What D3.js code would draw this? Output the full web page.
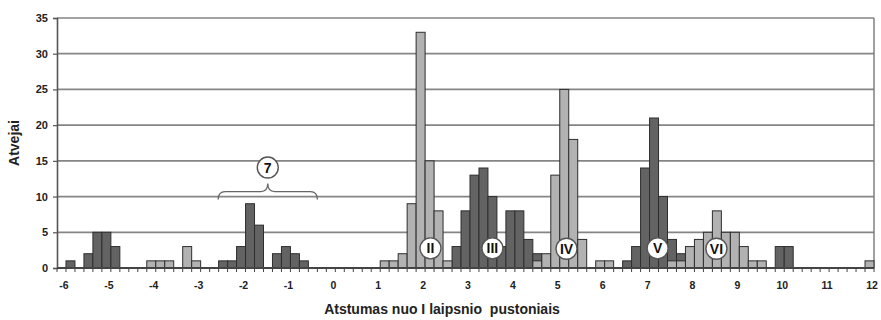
<!DOCTYPE html>
<html>
<head>
<meta charset="utf-8">
<script src="https://cdn.jsdelivr.net/npm/d3@7/dist/d3.min.js"></script>
<style>
  html, body { margin: 0; padding: 0; background: #fff; }
  svg { display: block; font-family: "Liberation Sans", Arial, sans-serif; }
</style>
</head>
<body>
<svg id="chart" width="881" height="320"></svg>
<script>
// Distance bins, 0.2 apart, from -6 to 12
const categories = d3.range(-30, 61).map(k => +(k / 5).toFixed(1));

// Counts per bin (dark series)
const darkValues = [
  0, 1, 0, 2, 5, 5, 3, 0, 0, 0,
  0, 0, 0, 0, 0, 0, 0, 0, 1, 1,
  3, 9, 6, 0, 2, 3, 2, 1, 0, 0,
  0, 0, 0, 0, 0, 0, 0, 0, 0, 0,
  0, 0, 0, 0, 3, 8, 13, 14, 10, 3,
  8, 8, 4, 2, 0, 0, 0, 0, 0, 0,
  0, 0, 0, 1, 3, 14, 21, 10, 4, 2,
  0, 0, 0, 0, 0, 0, 0, 0, 0, 0,
  3, 3, 0, 0, 0, 0, 0, 0, 0, 0,
  0
];

// Counts per bin (light series)
const lightValues = [
  0, 0, 0, 0, 0, 0, 0, 0, 0, 0,
  1, 1, 1, 0, 3, 1, 0, 0, 0, 0,
  0, 0, 0, 0, 0, 0, 0, 0, 0, 0,
  0, 0, 0, 0, 0, 0, 1, 1, 2, 9,
  33, 15, 8, 1, 0, 0, 0, 0, 0, 0,
  0, 0, 0, 1, 2, 13, 25, 18, 4, 0,
  1, 1, 0, 0, 0, 0, 0, 0, 1, 1,
  3, 4, 5, 8, 5, 5, 3, 1, 1, 0,
  0, 0, 0, 0, 0, 0, 0, 0, 0, 0,
  1
];

const xTickLabels = ["-6","-5","-4","-3","-2","-1","0","1","2","3","4","5","6","7","8","9","10","11","12"];
const yTicks = [0, 5, 10, 15, 20, 25, 30, 35];

// Group markers placed over the bins
const markers = [
  { text: "II",  at: 2.22, value: 2.75 },
  { text: "III", at: 3.60, value: 2.75 },
  { text: "IV",  at: 5.25, value: 2.7 },
  { text: "V",   at: 7.28, value: 2.75 },
  { text: "VI",  at: 8.59, value: 2.7 }
];
const braceGroup = { text: "7", from: -2.51, to: -0.30, value: 10 };

const svg = d3.select("#chart");
const plotLeft = 57, plotRight = 874, plotTop = 18, plotBottom = 268;

const x = d3.scaleBand()
  .domain(categories.map(String))
  .range([plotLeft, plotRight])
  .padding(0);

const y = d3.scaleLinear().domain([0, 35]).range([plotBottom, plotTop]);

// continuous helper on the same band geometry (category value -> pixel centre)
const xv = v => x(String(+v.toFixed(1))) + x.bandwidth() / 2;
const xc = d3.scaleLinear().domain([-6, 12]).range([xv(-6), xv(12)]);

// gridlines
svg.append("g")
  .selectAll("line")
  .data(yTicks.filter(t => t > 0))
  .join("line")
  .attr("x1", plotLeft).attr("x2", plotRight)
  .attr("y1", d => y(d)).attr("y2", d => y(d))
  .attr("stroke", "#858585")
  .attr("stroke-width", 1.7);

// right border of plot area
svg.append("line")
  .attr("x1", plotRight).attr("x2", plotRight)
  .attr("y1", y(35)).attr("y2", y(0))
  .attr("stroke", "#777").attr("stroke-width", 1.4);

// bars
function drawSeries(values, fill) {
  svg.append("g")
    .selectAll("rect")
    .data(categories.map((c, i) => ({ c, v: values[i] })).filter(d => d.v > 0))
    .join("rect")
    .attr("x", d => x(String(d.c)))
    .attr("width", x.bandwidth())
    .attr("y", d => y(d.v))
    .attr("height", d => y(0) - y(d.v))
    .attr("fill", fill)
    .attr("stroke", "#2e2e2e")
    .attr("stroke-width", 1);
}
drawSeries(darkValues, "#636363");
drawSeries(lightValues, "#b2b2b2");

// y axis
const yAxis = svg.append("g")
  .attr("transform", `translate(${plotLeft},0)`)
  .call(d3.axisLeft(y).tickValues(yTicks).tickSize(4).tickPadding(5));
yAxis.select(".domain").attr("stroke", "#555").attr("stroke-width", 1.6);
yAxis.selectAll(".tick line").attr("stroke", "#555").attr("stroke-width", 1.2);
yAxis.selectAll(".tick text")
  .attr("font-size", 11).attr("font-weight", "bold").attr("fill", "#222");

// x axis: labels every whole unit, ticks at every bin boundary
const labelCats = xTickLabels.map(t => String(+t));
const xAxis = svg.append("g")
  .attr("transform", `translate(0,${plotBottom})`)
  .call(d3.axisBottom(x).tickValues(labelCats).tickSize(0).tickPadding(14)
    .tickFormat((d, i) => xTickLabels[i]));
xAxis.select(".domain").remove();
xAxis.selectAll(".tick text")
  .attr("font-size", 10.5).attr("font-weight", "bold").attr("fill", "#222")
  .attr("dx", 2.5);

svg.append("g")
  .selectAll("line")
  .data(categories.map(String).concat(["end"]))
  .join("line")
  .attr("x1", d => d === "end" ? plotRight : x(d))
  .attr("x2", d => d === "end" ? plotRight : x(d))
  .attr("y1", plotBottom).attr("y2", plotBottom + 4)
  .attr("stroke", "#444").attr("stroke-width", 1);

svg.append("line")
  .attr("x1", plotLeft).attr("x2", plotRight)
  .attr("y1", plotBottom).attr("y2", plotBottom)
  .attr("stroke", "#444").attr("stroke-width", 1.8);

// axis titles
svg.append("text")
  .attr("x", 442).attr("y", 314)
  .attr("text-anchor", "middle")
  .attr("font-size", 14).attr("font-weight", "bold").attr("fill", "#222")
  .attr("xml:space", "preserve")
  .text("Atstumas nuo I laipsnio  pustoniais");

svg.append("text")
  .attr("transform", "translate(19,143) rotate(-90)")
  .attr("text-anchor", "middle")
  .attr("font-size", 14).attr("font-weight", "bold").attr("fill", "#222")
  .text("Atvejai");

// curly brace over the group
const bx0 = xc(braceGroup.from), bx1 = xc(braceGroup.to);
const bm = (bx0 + bx1) / 2;
const by = y(braceGroup.value) - 5;
const bracePath = d3.path();
bracePath.moveTo(bx0, by + 8);
bracePath.quadraticCurveTo(bx0, by, bx0 + 7, by);
bracePath.lineTo(bm - 7, by);
bracePath.quadraticCurveTo(bm, by, bm, by - 8);
bracePath.quadraticCurveTo(bm, by, bm + 7, by);
bracePath.lineTo(bx1 - 7, by);
bracePath.quadraticCurveTo(bx1, by, bx1, by + 8);
svg.append("path")
  .attr("d", bracePath.toString())
  .attr("fill", "none")
  .attr("stroke", "#666")
  .attr("stroke-width", 1.3);

function drawBadge(cx, cy, text, r) {
  const g = svg.append("g");
  g.append("circle")
    .attr("cx", cx).attr("cy", cy).attr("r", r)
    .attr("fill", "#fff").attr("stroke", "#555").attr("stroke-width", 1.4);
  g.append("text")
    .attr("x", cx).attr("y", cy + 5)
    .attr("text-anchor", "middle")
    .attr("font-size", 14).attr("font-weight", "bold").attr("fill", "#111")
    .text(text);
}

drawBadge(bm, by - 24, braceGroup.text, 10.5);
markers.forEach(m => drawBadge(xc(m.at), y(m.value), m.text, 10.5));
</script>
</body>
</html>
